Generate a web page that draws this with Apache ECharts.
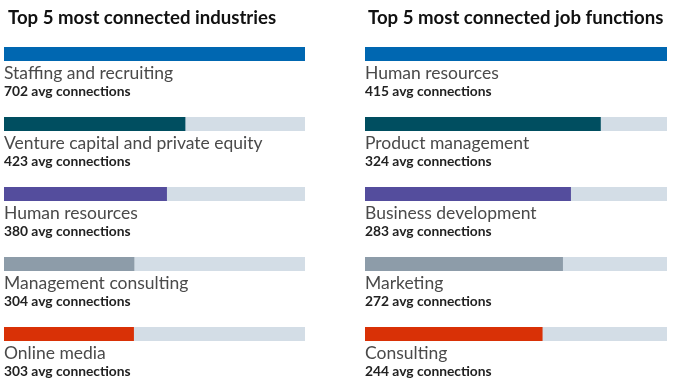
<!DOCTYPE html>
<html>
<head>
<meta charset="utf-8">
<script src="https://cdn.jsdelivr.net/npm/echarts@6/dist/echarts.min.js"></script>
<style>html,body{margin:0;padding:0;background:#fff}#c{width:674px;height:391px}</style>
</head>
<body>
<div id="c"></div>
<script>
const titles = ['Top 5 most connected industries', 'Top 5 most connected job functions'];
const industries = ['Staffing and recruiting', 'Venture capital and private equity', 'Human resources', 'Management consulting', 'Online media'];
const industryValues = [702, 423, 380, 304, 303];
const functions = ['Human resources', 'Product management', 'Business development', 'Marketing', 'Consulting'];
const functionValues = [415, 324, 283, 272, 244];
const colors = ['#0067b1', '#004e60', '#544d9d', '#8d9ca9', '#d93106'];
const trackColor = '#d3dde6';
const suffix = ' avg connections';

const chart = echarts.init(document.getElementById('c'));
const FONT = 'Lato';
function panel(idx, cats, vals) {
  const max = Math.max.apply(null, vals);
  return [
    {
      type: 'bar', xAxisIndex: idx, yAxisIndex: idx, barWidth: 14, barGap: '-100%',
      silent: true, z: 1,
      data: cats.map(() => max),
      itemStyle: { color: trackColor },
      label: {
        show: true, position: [0, 16], align: 'left', verticalAlign: 'top',
        formatter: p => '{n|' + cats[p.dataIndex] + '}\n{v|' + vals[p.dataIndex] + suffix + '}',
        rich: {
          n: { fontFamily: FONT, fontSize: 17.5, lineHeight: 20, color: '#4a4a4a' },
          v: { fontFamily: FONT, fontSize: 13.8, fontWeight: 'bold', lineHeight: 17, color: '#222' }
        }
      }
    },
    {
      type: 'bar', xAxisIndex: idx, yAxisIndex: idx, barWidth: 14, z: 2, silent: true,
      data: vals.map((v, i) => ({ value: v, itemStyle: { color: colors[i] } }))
    }
  ];
}
chart.setOption({
  animation: false,
  title: [
    { text: titles[0], left: 3, top: 3, textStyle: { fontFamily: FONT, fontSize: 18.6, fontWeight: 'bold', color: '#111' } },
    { text: titles[1], left: 363, top: 3, textStyle: { fontFamily: FONT, fontSize: 18.6, fontWeight: 'bold', color: '#111' } }
  ],
  grid: [
    { left: 4, width: 301, top: 19, height: 350 },
    { left: 365, width: 302, top: 19, height: 350 }
  ],
  xAxis: [
    { type: 'value', gridIndex: 0, min: 0, max: Math.max.apply(null, industryValues), show: false },
    { type: 'value', gridIndex: 1, min: 0, max: Math.max.apply(null, functionValues), show: false }
  ],
  yAxis: [
    { type: 'category', gridIndex: 0, inverse: true, data: industries, show: false },
    { type: 'category', gridIndex: 1, inverse: true, data: functions, show: false }
  ],
  series: panel(0, industries, industryValues).concat(panel(1, functions, functionValues))
});
</script>
</body>
</html>
